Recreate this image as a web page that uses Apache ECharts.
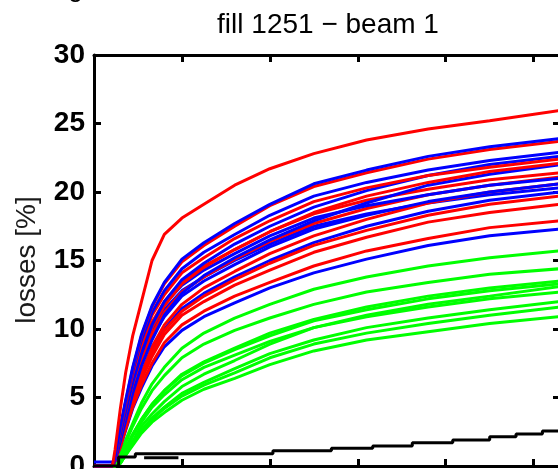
<!DOCTYPE html>
<html>
<head>
<meta charset="utf-8">
<title>fill 1251 − beam 1</title>
<script src="https://cdn.jsdelivr.net/npm/echarts@6/dist/echarts.min.js"></script>
<style>
  html, body { margin: 0; padding: 0; background: #fff; }
  #chart { width: 558px; height: 469px; }
</style>
</head>
<body>
<div id="chart"></div>
<script>
// Time grid shared by the loss curves (axis units)
const tGrid = [0, 0.21, 0.24, 0.3, 0.36, 0.44, 0.54, 0.66, 0.8, 1.0, 1.25, 1.6, 2.0, 2.5, 3.1, 3.8, 4.5, 5.3];

// Red bunches: losses [%]
const red1  = [0, 0, 1.2, 4.2, 6.8, 9.5, 12.0, 15.0, 16.9, 18.1, 19.1, 20.5, 21.7, 22.8, 23.8, 24.6, 25.2, 25.95];
const red2  = [0, 0, 0.7, 2.8, 4.7, 7.1, 9.5, 11.6, 13.3, 14.9, 16.1, 17.5, 19.0, 20.4, 21.4, 22.4, 23.1, 23.7];
const red3  = [0, 0, 0.7, 2.7, 4.5, 6.7, 9.0, 11.0, 12.5, 14.1, 15.2, 16.6, 17.9, 19.3, 20.3, 21.2, 21.8, 22.4];
const red4  = [0, 0, 0.6, 2.2, 3.9, 6.0, 8.1, 10.1, 11.7, 13.3, 14.5, 15.8, 17.1, 18.5, 19.7, 20.7, 21.5, 22.1];
const red5  = [0, 0, 0.6, 2.6, 4.3, 6.4, 8.6, 10.5, 12.0, 13.5, 14.6, 15.8, 17.1, 18.4, 19.4, 20.2, 20.9, 21.4];
const red6  = [0, 0, 0.5, 2.1, 3.7, 5.7, 7.7, 9.6, 11.2, 12.7, 13.8, 15.1, 16.4, 17.7, 18.8, 19.8, 20.5, 21.1];
const red7  = [0, 0, 0.4, 1.6, 3.1, 4.9, 6.8, 8.7, 10.3, 11.8, 13.0, 14.2, 15.5, 16.8, 18.0, 19.2, 20.0, 20.6];
const red8  = [0, 0, 0.4, 1.6, 3.0, 4.7, 6.5, 8.3, 9.9, 11.3, 12.4, 13.6, 14.8, 16.1, 17.2, 18.3, 19.1, 19.7];
const red9  = [0, 0, 0.4, 1.5, 2.9, 4.6, 6.3, 8.0, 9.6, 11.0, 12.0, 13.2, 14.3, 15.6, 16.7, 17.8, 18.5, 19.1];
const red10 = [0, 0, 0.4, 1.4, 2.7, 4.3, 5.9, 7.5, 9.0, 10.3, 11.3, 12.4, 13.4, 14.6, 15.7, 16.6, 17.4, 17.9];

// Blue bunches: losses [%]
const blue1 = [0, 0, 0.7, 2.9, 4.8, 7.2, 9.6, 11.7, 13.4, 15.1, 16.3, 17.7, 19.1, 20.6, 21.6, 22.6, 23.3, 23.9];
const blue2 = [0, 0, 0.7, 2.7, 4.6, 6.9, 9.2, 11.2, 12.8, 14.4, 15.6, 16.9, 18.3, 19.7, 20.7, 21.6, 22.3, 22.9];
const blue3 = [0, 0, 0.6, 2.3, 4.0, 6.1, 8.2, 10.3, 12.0, 13.6, 14.8, 16.2, 17.5, 18.9, 20.1, 21.2, 22.0, 22.6];
const blue4 = [0, 0, 0.4, 1.8, 3.3, 5.3, 7.3, 9.2, 11.0, 12.6, 13.9, 15.2, 16.5, 17.9, 19.2, 20.5, 21.3, 22.0];
const blue5 = [0, 0, 0.6, 2.5, 4.2, 6.3, 8.4, 10.3, 11.8, 13.2, 14.3, 15.5, 16.8, 18.1, 19.0, 19.8, 20.5, 21.0];
const blue6 = [0, 0, 0.5, 2.1, 3.6, 5.6, 7.5, 9.4, 10.9, 12.4, 13.5, 14.7, 16.0, 17.3, 18.3, 19.3, 20.0, 20.6];
const blue7 = [0, 0, 0.6, 2.4, 4.1, 6.1, 8.1, 9.9, 11.4, 12.8, 13.8, 15.0, 16.2, 17.5, 18.4, 19.2, 19.8, 20.3];
const blue8 = [0, 0, 0.4, 1.6, 3.0, 4.8, 6.6, 8.4, 10.0, 11.5, 12.6, 13.8, 15.0, 16.3, 17.5, 18.6, 19.4, 20.0];
const blue9 = [0.3, 0.3, 0.4, 1.4, 2.6, 4.2, 5.7, 7.3, 8.7, 9.9, 10.9, 11.9, 13.0, 14.1, 15.1, 16.1, 16.8, 17.3];

// Green bunches: losses [%]
const green1 = [0, 0, 0, 0.8, 1.9, 3.1, 4.6, 6.0, 7.2, 8.6, 9.7, 10.8, 11.8, 12.9, 13.8, 14.6, 15.2, 15.7];
const green2 = [0, 0, 0, 0.7, 1.7, 2.9, 4.2, 5.5, 6.6, 7.9, 8.9, 9.9, 10.8, 11.8, 12.7, 13.4, 14.0, 14.4];
const green3 = [0, 0, 0, 0.5, 1.3, 2.3, 3.4, 4.5, 5.5, 6.7, 7.6, 8.6, 9.7, 10.7, 11.6, 12.4, 13.0, 13.5];
const green4 = [0, 0, 0, 0.5, 1.3, 2.3, 3.4, 4.5, 5.5, 6.6, 7.5, 8.5, 9.5, 10.6, 11.4, 12.2, 12.8, 13.3];
const green5 = [0, 0, 0, 0.3, 0.9, 1.8, 2.9, 3.8, 4.7, 5.8, 6.7, 7.7, 8.9, 10.1, 11.0, 11.8, 12.4, 13.1];
const green6 = [0, 0, 0, 0.4, 1.2, 2.2, 3.2, 4.3, 5.2, 6.3, 7.2, 8.1, 9.1, 10.1, 10.9, 11.6, 12.2, 12.7];
const green7 = [0, 0, 0, 0.2, 0.8, 1.7, 2.6, 3.5, 4.3, 5.3, 6.1, 7.1, 8.2, 9.2, 10.1, 10.8, 11.4, 12.0];
const green8 = [0, 0, 0, 0.2, 0.8, 1.6, 2.6, 3.4, 4.2, 5.1, 5.9, 6.8, 7.9, 8.9, 9.7, 10.4, 11.0, 11.6];
const green9 = [0, 0, 0, 0.2, 0.8, 1.5, 2.4, 3.2, 3.9, 4.8, 5.6, 6.4, 7.4, 8.4, 9.2, 9.8, 10.4, 10.9];

// Black reference trace (stepwise), with its own time points
const blackT  = [0, 0.28, 0.47, 2.035, 2.70, 3.17, 3.62, 4.08, 4.50, 4.80, 5.10, 5.3];
const blackV  = [0, 0.66, 0.9, 1.12, 1.29, 1.46, 1.70, 1.90, 2.14, 2.34, 2.55, 2.55];
const black2T = [0.57, 0.96];
const black2V = [0.6, 0.6];

// Axis settings
const xMin = 0, xMax = 5.3, xStep = 1;
const yMin = 0, yMax = 30, yStep = 5;
const titleText = 'fill 1251 \u2212 beam 1';
const yName = 'losses [%]';

const FONT = '"Liberation Sans", Arial, Helvetica, sans-serif';
const RED = '#ff0000', BLUE = '#0000ff', GREEN = '#00ff00', BLACK = '#000000';

function curve(t, v, color, extra) {
  return Object.assign({
    type: 'line',
    data: t.map((x, i) => [x, v[i]]),
    showSymbol: false,
    symbol: 'none',
    clip: true,
    silent: true,
    animation: false,
    lineStyle: { color: color, width: 3 },
    itemStyle: { color: color }
  }, extra || {});
}

const series = [
  curve(tGrid, green9, GREEN), curve(tGrid, green8, GREEN), curve(tGrid, green7, GREEN),
  curve(tGrid, green6, GREEN), curve(tGrid, green5, GREEN), curve(tGrid, green4, GREEN),
  curve(tGrid, green3, GREEN), curve(tGrid, green2, GREEN), curve(tGrid, green1, GREEN),
  curve(tGrid, blue9, BLUE),  curve(tGrid, red10, RED),
  curve(tGrid, blue8, BLUE),  curve(tGrid, red9, RED),
  curve(tGrid, red8, RED),    curve(tGrid, blue7, BLUE),
  curve(tGrid, red7, RED),    curve(tGrid, blue6, BLUE),
  curve(tGrid, red6, RED),    curve(tGrid, blue5, BLUE),
  curve(tGrid, red5, RED),    curve(tGrid, blue4, BLUE),
  curve(tGrid, red4, RED),    curve(tGrid, blue3, BLUE),
  curve(tGrid, red3, RED),    curve(tGrid, blue2, BLUE),
  curve(tGrid, red2, RED),    curve(tGrid, blue1, BLUE),
  curve(tGrid, red1, RED),
  curve(blackT, blackV, BLACK, { step: 'end' }),
  curve(black2T, black2V, BLACK)
];

const axisLineStyle = { show: true, onZero: false, lineStyle: { color: BLACK, width: 3 } };
const tickStyle = { show: true, inside: true, length: 7, lineStyle: { color: BLACK, width: 3 } };

const chart = echarts.init(document.getElementById('chart'), null, { renderer: 'canvas' });
chart.setOption({
  animation: false,
  backgroundColor: '#ffffff',
  title: {
    text: titleText,
    left: 323,
    top: 6,
    textAlign: 'center',
    textStyle: { fontFamily: FONT, fontSize: 28, fontWeight: 'normal', color: BLACK }
  },
  grid: { left: 94, right: -2, top: 55, bottom: 3, containLabel: false, outerBoundsMode: 'none' },
  xAxis: [
    { type: 'value', position: 'bottom', min: xMin, max: xMax, interval: xStep,
      axisLine: axisLineStyle, axisTick: tickStyle, axisLabel: { show: false }, splitLine: { show: false } },
    { type: 'value', position: 'top', min: xMin, max: xMax, interval: xStep,
      axisLine: axisLineStyle, axisTick: tickStyle, axisLabel: { show: false }, splitLine: { show: false } }
  ],
  yAxis: [
    { type: 'value', position: 'left', min: yMin, max: yMax, interval: yStep,
      axisLine: axisLineStyle, axisTick: tickStyle,
      axisLabel: { show: true, margin: 9, fontFamily: FONT, fontSize: 28, fontWeight: 'bold', color: BLACK },
      splitLine: { show: false } },
    { type: 'value', position: 'right', min: yMin, max: yMax, interval: yStep,
      axisLine: axisLineStyle, axisTick: tickStyle, axisLabel: { show: false }, splitLine: { show: false } }
  ],
  graphic: [
    { type: 'text', x: 27, y: 260, rotation: Math.PI / 2, silent: true,
      style: { text: yName, fontFamily: FONT, fontSize: 28, fill: '#1a1a1a', align: 'center', verticalAlign: 'middle' } },
    { type: 'text', x: 68, y: -25, silent: true,
      style: { text: 'g', fontFamily: FONT, fontSize: 27, fill: BLACK, align: 'left', verticalAlign: 'top' } }
  ],
  series: series
});
</script>
</body>
</html>
